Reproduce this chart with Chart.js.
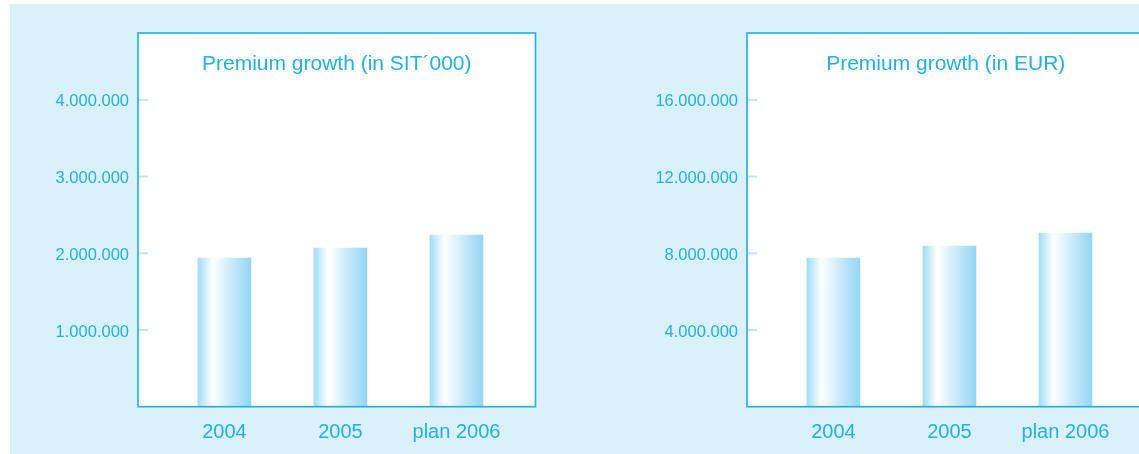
<!DOCTYPE html>
<html>
<head>
<meta charset="utf-8">
<script src="https://cdn.jsdelivr.net/npm/chart.js@4/dist/chart.umd.min.js"></script>
<style>
  html, body { margin: 0; padding: 0; background: #fff; overflow: hidden; }
  body { width: 1139px; height: 454px; position: relative; }
  .panel { position: absolute; left: 10px; top: 4px; width: 1200px; height: 450px; background: #daf1fb; }
  canvas { position: absolute; top: 0; }
  #chartSIT { left: 0; }
  #chartEUR { left: 609px; }
</style>
</head>
<body>
<div class="panel"></div>
<canvas id="chartSIT" width="570" height="454"></canvas>
<canvas id="chartEUR" width="570" height="454"></canvas>
<script>
const categories = ['2004', '2005', 'plan 2006'];
const premiumSIT = [1939000, 2069000, 2239000];
const premiumEUR = [7754000, 8381000, 9060000];
const ticksSIT = [1000000, 2000000, 3000000, 4000000];
const ticksEUR = [4000000, 8000000, 12000000, 16000000];

const cyan = '#1fb0e9';
const frameColor = '#19afea';
const tickMarkColor = '#bfe6f7';
const font = '"Liberation Sans", Arial, sans-serif';

function dotted(v) {
    return String(v).replace(/\B(?=(\d{3})+(?!\d))/g, '.');
}

// white plot box, then frame, small y tick marks and the title inside it
const framePlugin = {
    id: 'frame',
    beforeDraw(chart) {
        const { ctx, chartArea: a } = chart;
        ctx.save();
        ctx.fillStyle = '#ffffff';
        ctx.fillRect(a.left, a.top, a.right - a.left, a.bottom - a.top);
        ctx.restore();
    },
    afterDatasetsDraw(chart, args, opts) {
        const { ctx, chartArea: a, scales } = chart;
        ctx.save();
        ctx.strokeStyle = tickMarkColor;
        ctx.lineWidth = 2;
        scales.y.ticks.forEach(t => {
            const y = scales.y.getPixelForValue(t.value);
            ctx.beginPath();
            ctx.moveTo(a.left, y);
            ctx.lineTo(a.left + 10, y);
            ctx.stroke();
        });
        ctx.strokeStyle = frameColor;
        ctx.lineWidth = 1.6;
        ctx.strokeRect(a.left, a.top, a.right - a.left, a.bottom - a.top);
        ctx.fillStyle = cyan;
        ctx.font = '21px ' + font;
        ctx.textAlign = 'center';
        ctx.textBaseline = 'alphabetic';
        ctx.fillText(opts.text, (a.left + a.right) / 2, a.top + 37);
        ctx.restore();
    }
};

function barFill(context) {
    const chart = context.chart;
    const x = chart.scales.x;
    if (!x || !context.parsed) return '#b8e4f7';
    const cx = x.getPixelForValue(context.parsed.x);
    if (!isFinite(cx)) return '#b8e4f7';
    const g = chart.ctx.createLinearGradient(cx - 26.5, 0, cx + 26.5, 0);
    g.addColorStop(0, '#a1dcf6');
    g.addColorStop(0.27, '#ffffff');
    g.addColorStop(0.6, '#cdecfa');
    g.addColorStop(1, '#93d6f4');
    return g;
}

function makeChart(id, title, values, ticks, yMax) {
    return new Chart(document.getElementById(id), {
        type: 'bar',
        data: {
            datasets: [{
                data: values.map((v, i) => ({ x: i + 1, y: v })),
                backgroundColor: barFill,
                borderWidth: 0,
                barThickness: 53
            }]
        },
        options: {
            responsive: false,
            animation: false,
            devicePixelRatio: 1,
            layout: { padding: { top: 33, right: 34.5, left: 0, bottom: 0 } },
            plugins: {
                legend: { display: false },
                tooltip: { enabled: false },
                frame: { text: title }
            },
            scales: {
                x: {
                    type: 'linear',
                    offset: false,
                    min: 0.2555,
                    max: 3.681,
                    grid: { display: false },
                    border: { display: false },
                    afterBuildTicks: s => { s.ticks = categories.map((c, i) => ({ value: i + 1 })); },
                    afterFit: s => { s.height = 47.3; },
                    ticks: {
                        autoSkip: false,
                        maxRotation: 0,
                        padding: 5.5,
                        color: cyan,
                        font: { family: font, size: 20 },
                        callback: v => categories[v - 1] ?? ''
                    }
                },
                y: {
                    min: 0,
                    max: yMax,
                    grid: { display: false },
                    border: { display: false },
                    afterBuildTicks: s => { s.ticks = ticks.map(v => ({ value: v })); },
                    afterFit: s => { s.width = 138; },
                    ticks: {
                        padding: 1,
                        labelOffset: 2,
                        color: cyan,
                        font: { family: font, size: 16.5 },
                        callback: v => dotted(v)
                    }
                }
            }
        },
        plugins: [framePlugin]
    });
}

makeChart('chartSIT', 'Premium growth (in SIT\u00b4000)', premiumSIT, ticksSIT, 4872000);
makeChart('chartEUR', 'Premium growth (in EUR)', premiumEUR, ticksEUR, 19488000);
</script>
</body>
</html>
